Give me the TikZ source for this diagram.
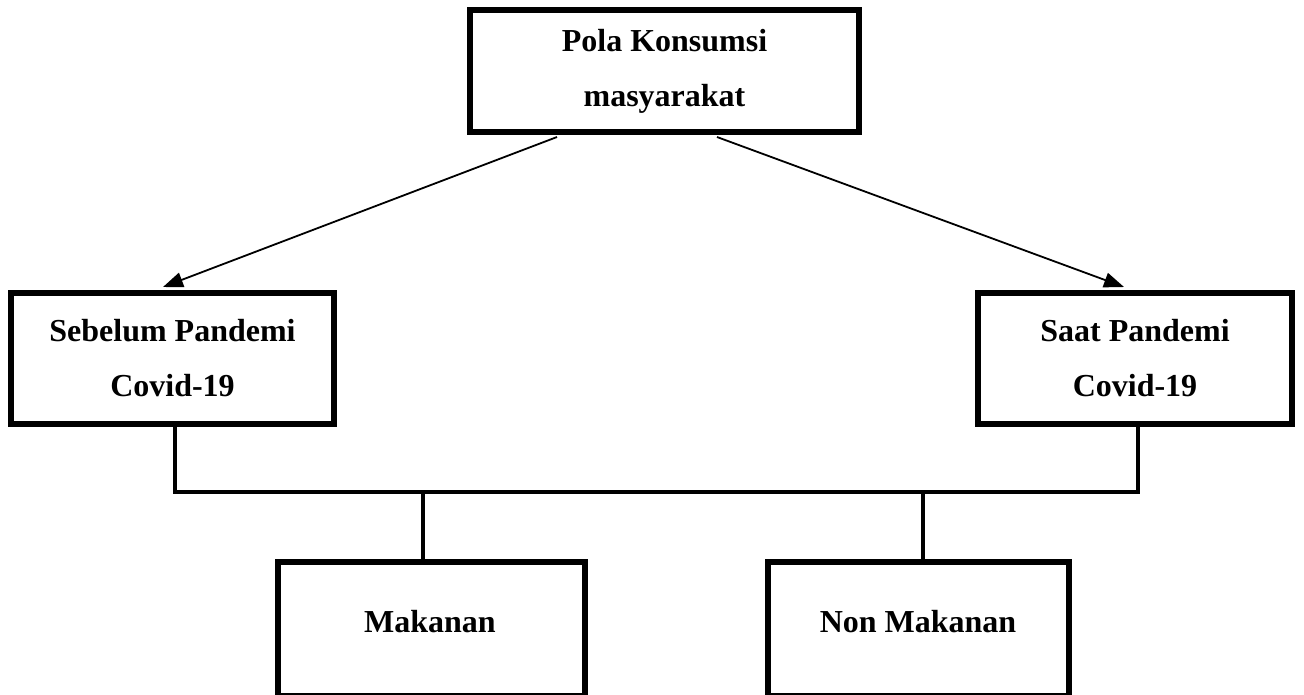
\documentclass[tikz,border=0pt]{standalone}
\usepackage{fontspec}
\setmainfont{Liberation Serif}
\usetikzlibrary{arrows.meta}
\begin{document}
\begin{tikzpicture}[x=1pt,y=-1pt,
  box/.style={draw=black,line width=6pt,rectangle,inner sep=0pt,align=center,
    font=\fontsize{32}{55}\selectfont\bfseries},
  lbl/.style={inner sep=0pt,font=\fontsize{32}{55}\selectfont\bfseries},
  conn/.style={draw=black,line width=4.5pt},
  arr/.style={draw=black,line width=1.8pt,-{Triangle[length=20pt,width=15pt]}}]
\useasboundingbox[fill=white] (0,0) rectangle (1304,694);
% boxes
\node[box,minimum width=389pt,minimum height=122pt] (top) at (664.5,71) {Pola Konsumsi\\masyarakat};
\node[box,minimum width=323pt,minimum height=131pt] (lb) at (172.5,358.5) {Sebelum Pandemi\\Covid-19};
\node[box,minimum width=314pt,minimum height=131pt] (rb) at (1135,358.5) {Saat Pandemi\\Covid-19};
\node[box,minimum width=307pt,minimum height=134pt] (mk) at (431.5,629) {};
\node[box,minimum width=301pt,minimum height=134pt] (nm) at (918.5,629) {};
\node[lbl,anchor=base] (mkt) at (430,632) {Makanan};
\node[lbl,anchor=base] (nmt) at (918,632) {Non Makanan};
% arrows
\draw[arr] ([xshift=-107.5pt,yshift=-2pt]top.south) -- ([xshift=-9.5pt,yshift=3pt]lb.north);
\draw[arr] ([xshift=52.5pt,yshift=-2pt]top.south) -- ([xshift=-11pt,yshift=3pt]rb.north);
% bus connectors
\coordinate (busL) at (175,492);
\coordinate (busR) at (1138,492);
\coordinate (j1) at (423,492);
\coordinate (j2) at (923,492);
\draw[conn,line join=miter] ([xshift=2.5pt]lb.south) -- (busL) -- (busR) -- ([xshift=3pt]rb.south);
\draw[conn,line width=4pt] (j1) -- (j1 |- mk.north);
\draw[conn,line width=4pt] (j2) -- (j2 |- nm.north);
\end{tikzpicture}
\end{document}
